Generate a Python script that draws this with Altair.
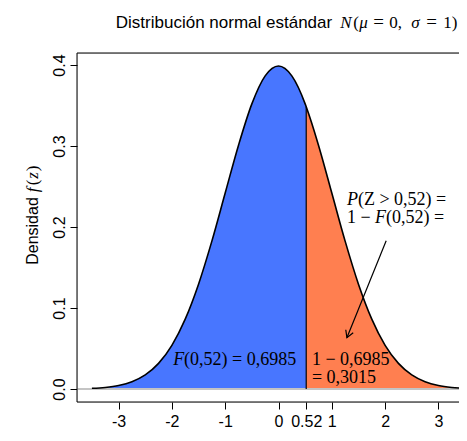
import altair as alt
import pandas as pd

# ---- data ----
Z = [-3.5, -3.25, -3.0, -2.75, -2.5, -2.25, -2.0, -1.75, -1.5, -1.25, -1.0, -0.75,
     -0.5, -0.25, 0.0, 0.25, 0.5, 0.52, 0.75, 1.0, 1.25, 1.5, 1.75, 2.0, 2.25, 2.5,
     2.75, 3.0, 3.25, 3.5]
DENS = [0.0009, 0.0020, 0.0044, 0.0091, 0.0175, 0.0317, 0.0540, 0.0863, 0.1295, 0.1826,
        0.2420, 0.3011, 0.3521, 0.3867, 0.3989, 0.3867, 0.3521, 0.3485, 0.3011, 0.2420,
        0.1826, 0.1295, 0.0863, 0.0540, 0.0317, 0.0175, 0.0091, 0.0044, 0.0020, 0.0009]
Z_CUT = 0.52
F_CUT = 0.3485
X_TICKS = [-3, -2, -1, 0, 0.52, 1, 2, 3]
Y_TICKS = [0.0, 0.1, 0.2, 0.3, 0.4]

W, H = 382, 349
SANS = "Liberation Sans"
SERIF = "Liberation Serif"
BLUE = "#4876FF"
ORANGE = "#FF7F50"

curve = pd.DataFrame({"z": Z, "f": DENS})
left_part = curve[curve["z"] <= Z_CUT]
right_part = curve[curve["z"] >= Z_CUT]
one = pd.DataFrame({"k": [0]})

xscale = alt.Scale(domain=[-3.78, 3.386], nice=False, zero=False)
yscale = alt.Scale(domain=[-0.016, 0.4149], nice=False, zero=False)

xaxis = alt.Axis(values=X_TICKS, labelExpr="'' + datum.value", title=None, grid=False,
                 domain=False, tickSize=7, tickColor="black", tickWidth=1,
                 labelFont=SANS, labelFontSize=16, labelColor="black",
                 labelBaseline="alphabetic", labelPadding=17, labelOverlap=False,
                 labelFlush=False)
yaxis = alt.Axis(values=Y_TICKS, format=".1f", title=None, grid=False, domain=False,
                 tickSize=7, tickColor="black", tickWidth=1, labelFont=SANS,
                 labelFontSize=16, labelColor="black", labelAngle=270,
                 labelAlign="center", labelBaseline="alphabetic", labelPadding=6,
                 labelOverlap=False)

grey0 = alt.Chart(one).mark_rule(color="#c4c4c4", strokeWidth=2).encode(
    y=alt.datum(0, scale=yscale), x=alt.value(0), x2=alt.value(W))

area_l = alt.Chart(left_part).mark_area(color=BLUE, opacity=1, interpolate="monotone").encode(
    x=alt.X("z:Q", scale=xscale, axis=xaxis),
    y=alt.Y("f:Q", scale=yscale, axis=yaxis),
    y2=alt.datum(0))
area_r = alt.Chart(right_part).mark_area(color=ORANGE, opacity=1, interpolate="monotone").encode(
    x="z:Q", y="f:Q", y2=alt.datum(0))
line = alt.Chart(curve).mark_line(color="black", strokeWidth=1.6, interpolate="monotone").encode(
    x="z:Q", y="f:Q")
vline = alt.Chart(one).mark_rule(color="black", strokeWidth=1.2).encode(
    x=alt.datum(Z_CUT), y=alt.datum(0), y2=alt.datum(F_CUT))

box_top = alt.Chart(one).mark_rule(color="black", strokeWidth=1).encode(
    x=alt.value(0), x2=alt.value(W), y=alt.value(0))
box_left = alt.Chart(one).mark_rule(color="black", strokeWidth=1).encode(
    x=alt.value(0), y=alt.value(0), y2=alt.value(H))
box_bot = alt.Chart(one).mark_rule(color="black", strokeWidth=1).encode(
    x=alt.value(0), x2=alt.value(W), y=alt.value(H))

arrow = alt.Chart(one).mark_rule(color="black", strokeWidth=1.2).encode(
    x=alt.datum(2.02), y=alt.datum(0.183), x2=alt.datum(1.283), y2=alt.datum(0.0634))
head = alt.Chart(one).mark_point(
    shape="M -0.5 -0.866 L 0 0 L 0.5 -0.866", size=256, angle=22, filled=False,
    stroke="black", strokeWidth=1.2, opacity=1).encode(
    x=alt.datum(1.283), y=alt.datum(0.0634))


def txt(text, x, y, dx=0, italic=False, align="left", font=SERIF, size=18, angle=0):
    kw = dict(text=text, dx=dx, align=align, baseline="alphabetic", font=font,
              fontSize=size, fontStyle="italic" if italic else "normal", color="black")
    if angle:
        kw["angle"] = angle
    return alt.Chart(one).mark_text(**kw).encode(x=alt.datum(x), y=alt.datum(y))


TX, TY = 1.007, 0.4462
texts = [
    # title
    txt("Distribución normal estándar", TX, TY, align="right", font=SANS, size=17),
    txt("N", TX, TY, dx=8, italic=True, size=17),
    txt("(", TX, TY, dx=21, size=17),
    txt("μ", TX, TY, dx=27, italic=True, size=17),
    txt("=", TX, TY, dx=41, size=19),
    txt("0,", TX, TY, dx=57, size=17),
    txt("σ", TX, TY, dx=79, italic=True, size=17),
    txt("=", TX, TY, dx=94, size=19),
    txt("1)", TX, TY, dx=111, size=17),
    # y-axis title
    txt("Densidad", -4.507, 0.2418, dx=-4, align="right", font=SANS, size=16, angle=270),
    txt("f", -4.507, 0.2418, dx=1, italic=True, size=17, angle=270),
    txt("(", -4.507, 0.2418, dx=8, size=17, angle=270),
    txt("z", -4.507, 0.2418, dx=14.5, italic=True, size=17, angle=270),
    txt(")", -4.507, 0.2418, dx=22, size=17, angle=270),
    # F(0,52) = 0,6985
    txt("(0,52) = 0,6985", 0.332, 0.0295, align="right"),
    txt("F", 0.332, 0.0295, dx=-112, italic=True, align="right"),
    # 1 - 0,6985 = 0,3015
    txt("1 − 0,6985", 0.627, 0.0295),
    txt("= 0,3015", 0.627, 0.008),
    # P(Z > 0,52) = 1 - F(0,52) =
    txt("P", 1.283, 0.227, italic=True),
    txt("(Z > 0,52) =", 1.283, 0.227, dx=11),
    txt("1 − ", 1.283, 0.205),
    txt("F", 1.283, 0.205, dx=28, italic=True),
    txt("(0,52) =", 1.283, 0.205, dx=39),
]

chart = alt.layer(
    area_l, area_r, grey0, line, vline, box_top, box_left, box_bot, arrow, head, *texts
).properties(
    width=W, height=H,
    autosize=alt.AutoSizeParams(type="none"),
    padding={"left": 69, "top": 45, "right": 0, "bottom": 28},
).configure_view(stroke=None).configure(background="white")

chart.save("out.html", embed_options={"renderer": "svg", "actions": False})
